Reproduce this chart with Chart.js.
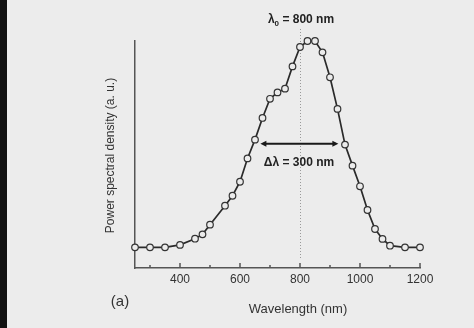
<!DOCTYPE html>
<html>
<head>
<meta charset="utf-8">
<script src="https://cdn.jsdelivr.net/npm/chart.js@4/dist/chart.umd.min.js"></script>
<style>
  html, body { margin: 0; padding: 0; background: #ececec; }
  #wrap { width: 474px; height: 328px; position: relative; }
</style>
</head>
<body>
<div id="wrap"><canvas id="c" width="474" height="328"></canvas></div>
<script>
// ---- data ----
const wavelengths = [250,300,350,400,450,475,500,550,575,600,625,650,675,700,725,750,775,800,825,850,875,900,925,950,975,1000,1025,1050,1075,1100,1150,1200];
const psd = [0,0,0,0.012,0.042,0.063,0.11,0.202,0.25,0.318,0.431,0.522,0.627,0.72,0.751,0.769,0.877,0.971,1.0,1.0,0.945,0.824,0.671,0.498,0.396,0.296,0.181,0.089,0.041,0.008,0,0];
const majorTicks = [400,600,800,1000,1200];
const minorTicks = [300,500,700,900,1100];
const centerWavelength = 800;
const fwhmArrow = [668, 928];
const fwhmLevel = 0.502;
const centerLabel = ['λ', '0', ' = 800 nm'];
const fwhmLabel = 'Δλ = 300 nm';
const xTitle = 'Wavelength (nm)';
const yTitle = 'Power spectral density (a. u.)';
const panelLabel = '(a)';

const FONT = "'Liberation Sans', Arial, Helvetica, sans-serif";
const TXT = '#333';

const decor = {
  id: 'decor',
  beforeDraw(chart) {
    const ctx = chart.ctx;
    ctx.save();
    ctx.fillStyle = '#ececec';
    ctx.fillRect(0, 0, chart.width, chart.height);
    ctx.fillStyle = '#111';
    ctx.fillRect(0, 0, 7, chart.height);
    ctx.restore();
  },
  beforeDatasetsDraw(chart) {
    const ctx = chart.ctx, x = chart.scales.x, a = chart.chartArea;
    const px = x.getPixelForValue(centerWavelength);
    ctx.save();
    ctx.strokeStyle = '#9a9a9a';
    ctx.lineWidth = 1;
    ctx.setLineDash([1, 2]);
    ctx.beginPath();
    ctx.moveTo(px + 0.5, 29);
    ctx.lineTo(px + 0.5, a.bottom - 8);
    ctx.stroke();
    ctx.restore();
  },
  afterDraw(chart) {
    const ctx = chart.ctx, x = chart.scales.x, y = chart.scales.y, a = chart.chartArea;
    ctx.save();
    // inward ticks
    ctx.strokeStyle = '#555';
    ctx.lineWidth = 1.5;
    majorTicks.forEach(v => {
      const p = x.getPixelForValue(v);
      ctx.beginPath(); ctx.moveTo(p, a.bottom); ctx.lineTo(p, a.bottom - 5); ctx.stroke();
    });
    minorTicks.forEach(v => {
      const p = x.getPixelForValue(v);
      ctx.beginPath(); ctx.moveTo(p, a.bottom); ctx.lineTo(p, a.bottom - 3); ctx.stroke();
    });
    // FWHM arrow
    const x1 = x.getPixelForValue(fwhmArrow[0]);
    const x2 = x.getPixelForValue(fwhmArrow[1]);
    const ay = y.getPixelForValue(fwhmLevel);
    ctx.strokeStyle = '#1a1a1a';
    ctx.fillStyle = '#1a1a1a';
    ctx.lineWidth = 2;
    ctx.beginPath(); ctx.moveTo(x1 + 3, ay); ctx.lineTo(x2 - 3, ay); ctx.stroke();
    ctx.beginPath(); ctx.moveTo(x1, ay); ctx.lineTo(x1 + 6, ay - 3); ctx.lineTo(x1 + 6, ay + 3); ctx.closePath(); ctx.fill();
    ctx.beginPath(); ctx.moveTo(x2, ay); ctx.lineTo(x2 - 6, ay - 3); ctx.lineTo(x2 - 6, ay + 3); ctx.closePath(); ctx.fill();

    // center label with subscript
    const pc = x.getPixelForValue(centerWavelength);
    ctx.fillStyle = '#222';
    ctx.textBaseline = 'middle';
    ctx.textAlign = 'left';
    const fMain = 'bold 12px ' + FONT, fSub = 'bold 8px ' + FONT;
    ctx.font = fMain; const w1 = ctx.measureText(centerLabel[0]).width;
    ctx.font = fSub; const w2 = ctx.measureText(centerLabel[1]).width;
    ctx.font = fMain; const w3 = ctx.measureText(centerLabel[2]).width;
    let sx = pc + 1 - (w1 + w2 + w3) / 2;
    const ty = 20;
    ctx.font = fMain; ctx.fillText(centerLabel[0], sx, ty); sx += w1;
    ctx.font = fSub; ctx.fillText(centerLabel[1], sx, ty + 4); sx += w2;
    ctx.font = fMain; ctx.fillText(centerLabel[2], sx, ty);

    // FWHM label
    ctx.textAlign = 'center';
    ctx.font = fMain;
    ctx.fillText(fwhmLabel, pc - 1, ay + 19);

    // axis titles
    ctx.fillStyle = TXT;
    ctx.font = '13px ' + FONT;
    ctx.fillText(xTitle, pc - 2, 309);
    ctx.font = '15px ' + FONT;
    ctx.fillText(panelLabel, 120, 302);
    ctx.save();
    ctx.translate(111, (a.top + a.bottom) / 2 + 1);
    ctx.rotate(-Math.PI / 2);
    ctx.font = '12px ' + FONT;
    ctx.fillText(yTitle, 0, 0);
    ctx.restore();
    ctx.restore();
  }
};

new Chart(document.getElementById('c'), {
  type: 'line',
  data: {
    datasets: [{
      data: wavelengths.map((w, i) => ({ x: w, y: psd[i] })),
      borderColor: '#2a2a2a',
      borderWidth: 1.7,
      pointRadius: 3.3,
      pointBorderWidth: 1.2,
      pointBorderColor: '#333',
      pointBackgroundColor: '#ececec',
      tension: 0,
      clip: false
    }]
  },
  options: {
    responsive: false,
    animation: false,
    events: [],
    layout: { padding: { left: 0, right: 54, top: 41, bottom: 0 } },
    plugins: { legend: { display: false }, tooltip: { enabled: false } },
    scales: {
      x: {
        type: 'linear',
        min: 250, max: 1200,
        afterBuildTicks: s => { s.ticks = majorTicks.map(v => ({ value: v })); },
        afterFit: s => { s.height = 60; },
        grid: { display: false, drawTicks: false },
        border: { display: true, color: '#555', width: 1.5 },
        ticks: { color: TXT, font: { size: 12, family: FONT }, padding: 4, maxRotation: 0, autoSkip: false,
                 callback: v => String(v) }
      },
      y: {
        min: -0.1, max: 1.0,
        afterFit: s => { s.width = 135; },
        grid: { display: false, drawTicks: false },
        border: { display: true, color: '#555', width: 1.5 },
        ticks: { display: false }
      }
    }
  },
  plugins: [decor]
});
</script>
</body>
</html>
